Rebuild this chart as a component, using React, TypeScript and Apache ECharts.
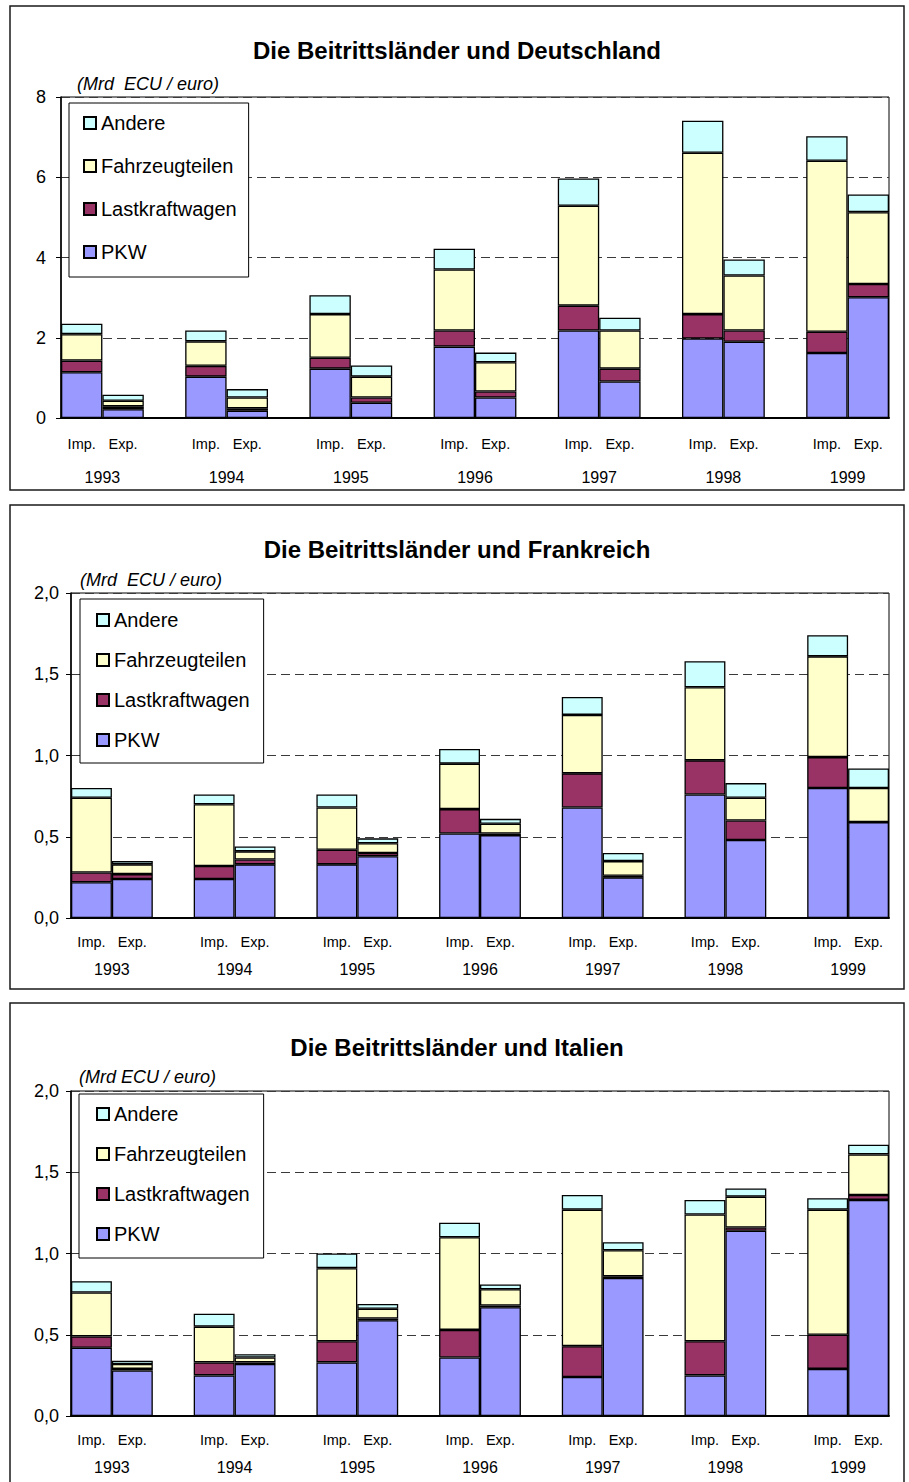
import React, { useEffect, useRef } from "react";
import * as echarts from "echarts";

// Years on the category axis and the four stacked product groups (bottom to top)
const YEARS = ["1993", "1994", "1995", "1996", "1997", "1998", "1999"];
const SEGMENTS = ["PKW", "Lastkraftwagen", "Fahrzeugteilen", "Andere"];
const SEGMENT_COLORS = ["#9999FF", "#993366", "#FFFFCC", "#CCFFFF"];
const LEGEND_ORDER = ["Andere", "Fahrzeugteilen", "Lastkraftwagen", "PKW"];
const FLOW_LABELS = ["Imp.", "Exp."];

// Trade with Germany, Mrd ECU/euro; rows follow SEGMENTS, columns follow YEARS
const DE_IMP = [
  [1.14, 1.03, 1.23, 1.78, 2.18, 1.98, 1.62],
  [0.29, 0.27, 0.27, 0.4, 0.62, 0.61, 0.53],
  [0.66, 0.61, 1.09, 1.52, 2.49, 4.02, 4.26],
  [0.26, 0.27, 0.47, 0.52, 0.68, 0.8, 0.61],
];
const DE_EXP = [
  [0.22, 0.18, 0.38, 0.51, 0.91, 1.9, 3.01],
  [0.07, 0.06, 0.13, 0.15, 0.32, 0.28, 0.33],
  [0.14, 0.27, 0.52, 0.73, 0.95, 1.37, 1.79],
  [0.15, 0.21, 0.28, 0.24, 0.32, 0.4, 0.44],
];

// Trade with France
const FR_IMP = [
  [0.22, 0.24, 0.33, 0.52, 0.68, 0.76, 0.8],
  [0.06, 0.08, 0.09, 0.15, 0.21, 0.21, 0.19],
  [0.46, 0.38, 0.26, 0.28, 0.36, 0.45, 0.62],
  [0.06, 0.06, 0.08, 0.09, 0.11, 0.16, 0.13],
];
const FR_EXP = [
  [0.24, 0.33, 0.38, 0.51, 0.25, 0.48, 0.59],
  [0.03, 0.03, 0.02, 0.01, 0.01, 0.12, 0.0],
  [0.06, 0.05, 0.06, 0.06, 0.09, 0.14, 0.21],
  [0.02, 0.03, 0.03, 0.03, 0.05, 0.09, 0.12],
];

// Trade with Italy
const IT_IMP = [
  [0.42, 0.25, 0.33, 0.36, 0.24, 0.25, 0.29],
  [0.07, 0.08, 0.13, 0.17, 0.19, 0.21, 0.21],
  [0.27, 0.22, 0.45, 0.57, 0.84, 0.78, 0.77],
  [0.07, 0.08, 0.09, 0.09, 0.09, 0.09, 0.07],
];
const IT_EXP = [
  [0.28, 0.32, 0.59, 0.67, 0.85, 1.14, 1.33],
  [0.01, 0.01, 0.01, 0.01, 0.01, 0.02, 0.03],
  [0.03, 0.03, 0.06, 0.1, 0.16, 0.19, 0.25],
  [0.02, 0.02, 0.03, 0.03, 0.05, 0.05, 0.06],
];

const TITLES = [
  "Die Beitrittsländer und Deutschland",
  "Die Beitrittsländer und Frankreich",
  "Die Beitrittsländer und Italien",
];
const UNIT_LABELS = ["(Mrd  ECU / euro)", "(Mrd  ECU / euro)", "(Mrd ECU / euro)"];
const Y_MAX = [8, 2, 2];
const Y_STEP = [2, 0.5, 0.5];

const FONT = 'Arial, "Liberation Sans", Helvetica, sans-serif';

// Page layout of the three stacked panels
const LAYOUT = [
  {
    frame: { x: 10, y: 6, width: 894, height: 484 },
    grid: { left: 61, top: 97, width: 828, height: 321 },
    titleTop: 38,
    unit: { left: 77, top: 75 },
    legend: { left: 69, top: 103, padding: [10, 12, 15, 14], itemGap: 23 },
    yLabelMargin: 15,
    flowMargin: 18,
    yearMargin: 51,
  },
  {
    frame: { x: 10, y: 505, width: 894, height: 484 },
    grid: { left: 71, top: 593, width: 818, height: 325 },
    titleTop: 537,
    unit: { left: 80, top: 571 },
    legend: { left: 80, top: 599, padding: [11, 14, 13, 16], itemGap: 20 },
    yLabelMargin: 12,
    flowMargin: 16,
    yearMargin: 43,
  },
  {
    frame: { x: 10, y: 1003, width: 894, height: 492 },
    grid: { left: 71, top: 1091, width: 818, height: 325 },
    titleTop: 1035,
    unit: { left: 79, top: 1068 },
    legend: { left: 79, top: 1094, padding: [10, 14, 14, 17], itemGap: 20 },
    yLabelMargin: 12,
    flowMargin: 16,
    yearMargin: 43,
  },
];

const PANEL_DATA = [
  [DE_IMP, DE_EXP],
  [FR_IMP, FR_EXP],
  [IT_IMP, IT_EXP],
];

// Categories: Imp., Exp. per year, with an empty slot between years
const CATEGORIES: string[] = [];
YEARS.forEach((y, i) => {
  FLOW_LABELS.forEach((f) => CATEGORIES.push(`${y}|${f}`));
  if (i < YEARS.length - 1) CATEGORIES.push(`${y}|`);
});
const YEAR_POSITIONS = YEARS.map((_, i) => 3 * i + 1);

function seriesValues(imp: number[][], exp: number[][], seg: number) {
  const out: (number | string)[] = [];
  YEARS.forEach((_, i) => {
    out.push(imp[seg][i], exp[seg][i]);
    if (i < YEARS.length - 1) out.push("-");
  });
  return out;
}

function fmtDecimal(v: number, step: number) {
  return step < 1 ? v.toFixed(1).replace(".", ",") : String(v);
}

function buildOption() {
  const grid: any[] = [];
  const xAxis: any[] = [];
  const yAxis: any[] = [];
  const series: any[] = [];
  const title: any[] = [];
  const legend: any[] = [];
  const graphic: any[] = [];

  LAYOUT.forEach((L, p) => {
    graphic.push({
      type: "rect",
      shape: L.frame,
      style: { fill: "none", stroke: "#1a1a1a", lineWidth: 1.5 },
      z: -1,
    });

    grid.push({
      ...L.grid,
      containLabel: false,
      outerBoundsMode: "none",
      show: true,
      borderColor: "#000",
      borderWidth: 1,
      backgroundColor: "transparent",
    });

    xAxis.push({
      type: "category",
      gridIndex: p,
      data: CATEGORIES,
      boundaryGap: true,
      axisLine: { show: true, lineStyle: { color: "#000", width: 2 } },
      axisTick: { show: false },
      splitLine: { show: false },
      axisLabel: {
        interval: 0,
        hideOverlap: false,
        margin: L.flowMargin,
        fontSize: 14.5,
        color: "#000",
        fontFamily: FONT,
        formatter: (v: string) => v.split("|")[1],
      },
    });
    xAxis.push({
      type: "value",
      gridIndex: p,
      position: "bottom",
      min: 0,
      max: CATEGORIES.length,
      axisLine: { show: false },
      axisTick: { show: false },
      splitLine: { show: false },
      axisLabel: {
        customValues: YEAR_POSITIONS,
        margin: L.yearMargin,
        fontSize: 16,
        color: "#000",
        fontFamily: FONT,
        formatter: (v: number) => YEARS[Math.round((v - 1) / 3)] ?? "",
      },
    });

    yAxis.push({
      type: "value",
      gridIndex: p,
      min: 0,
      max: Y_MAX[p],
      interval: Y_STEP[p],
      axisLine: { show: true, lineStyle: { color: "#000", width: 1.5 } },
      axisTick: { show: true, inside: false, length: 5, lineStyle: { color: "#000" } },
      axisLabel: {
        margin: L.yLabelMargin,
        fontSize: 18,
        color: "#000",
        fontFamily: FONT,
        formatter: (v: number) => fmtDecimal(v, Y_STEP[p]),
      },
      splitLine: {
        show: true,
        lineStyle: { color: "#3a3a3a", width: 1, type: [9, 5] },
      },
    });

    const [imp, exp] = PANEL_DATA[p];
    SEGMENTS.forEach((name, s) => {
      series.push({
        type: "bar",
        name,
        xAxisIndex: p * 2,
        yAxisIndex: p,
        stack: `panel${p}`,
        barWidth: "100%",
        barCategoryGap: "0%",
        data: seriesValues(imp, exp, s),
        itemStyle: {
          color: SEGMENT_COLORS[s],
          borderColor: "#000",
          borderWidth: 1.3,
        },
        emphasis: { disabled: true },
        silent: true,
      });
    });

    title.push({
      text: TITLES[p],
      left: 457,
      top: L.titleTop,
      textAlign: "center",
      padding: 0,
      textStyle: { fontSize: 24, fontWeight: "bold", color: "#000", fontFamily: FONT },
    });
    title.push({
      text: UNIT_LABELS[p],
      left: L.unit.left,
      top: L.unit.top,
      padding: 0,
      textStyle: {
        fontSize: 18,
        fontStyle: "italic",
        fontWeight: "normal",
        color: "#000",
        fontFamily: FONT,
      },
    });

    legend.push({
      orient: "vertical",
      left: L.legend.left,
      top: L.legend.top,
      padding: L.legend.padding,
      itemGap: L.legend.itemGap,
      data: LEGEND_ORDER,
      icon: "rect",
      itemWidth: 12,
      itemHeight: 12,
      selectedMode: false,
      borderColor: "#000",
      borderWidth: 1,
      backgroundColor: "#fff",
      textStyle: { fontSize: 20, lineHeight: 20, color: "#000", fontFamily: FONT },
    });
  });

  return {
    animation: false,
    backgroundColor: "#fff",
    textStyle: { fontFamily: FONT },
    title,
    legend,
    grid,
    xAxis,
    yAxis,
    series,
    graphic,
  };
}

export default function App() {
  const ref = useRef<HTMLDivElement>(null);

  useEffect(() => {
    if (!ref.current) return;
    const chart = echarts.init(ref.current, undefined, { renderer: "svg" });
    chart.setOption(buildOption() as any);
    return () => chart.dispose();
  }, []);

  return (
    <div
      ref={ref}
      style={{ position: "absolute", left: 0, top: 0, width: 909, height: 1482 }}
    />
  );
}
